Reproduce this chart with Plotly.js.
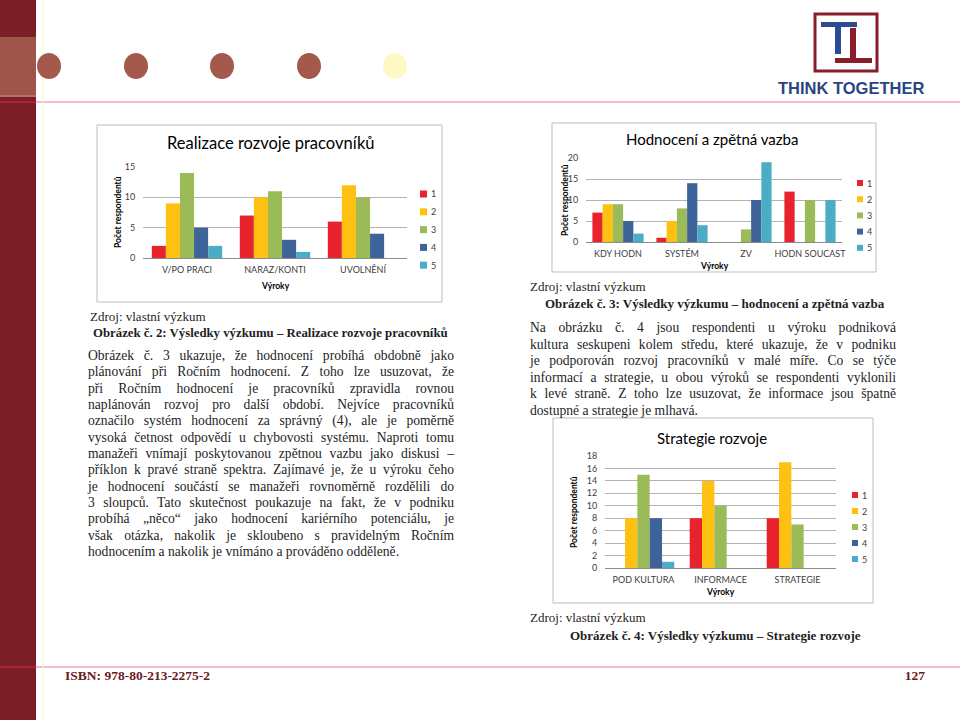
<!DOCTYPE html>
<html>
<head>
<meta charset="utf-8">
<script src="https://cdn.plot.ly/plotly-3.0.1.min.js"></script>
<style>
  html, body { margin:0; padding:0; background:#ffffff; }
  #page { position:relative; width:960px; height:720px; overflow:hidden; }
  #plot { position:absolute; left:0; top:0; width:960px; height:720px; }
  .ln { position:absolute; white-space:nowrap; font-family:"Liberation Serif", "Times New Roman", serif; color:#1e1e1e; }
  .just { text-align:justify; text-align-last:justify; white-space:normal; }
</style>
</head>
<body>
<div id="page">
  <div id="plot"></div>
</div>
<script>
// ---------------- DATA ----------------
const seriesNames = ['1', '2', '3', '4', '5'];

const cats1 = ['V/PO PRACI', 'NARAZ/KONTI', 'UVOLNĚNÍ'];
const s1_chart1 = [2, 7, 6];
const s2_chart1 = [9, 10, 12];
const s3_chart1 = [14, 11, 10];
const s4_chart1 = [5, 3, 4];
const s5_chart1 = [2, 1, 0];

const cats2 = ['KDY HODN', 'SYSTÉM', 'ZV', 'HODN SOUCAST'];
const s1_chart2 = [7, 1, 0, 12];
const s2_chart2 = [9, 5, 0, 0];
const s3_chart2 = [9, 8, 3, 10];
const s4_chart2 = [5, 14, 10, 0];
const s5_chart2 = [2, 4, 19, 10];

const cats3 = ['POD KULTURA', 'INFORMACE', 'STRATEGIE'];
const s1_chart3 = [0, 8, 8];
const s2_chart3 = [8, 14, 17];
const s3_chart3 = [15, 10, 7];
const s4_chart3 = [8, 0, 0];
const s5_chart3 = [1, 0, 0];

const title1 = 'Realizace rozvoje pracovníků';
const title2 = 'Hodnocení a zpětná vazba';
const title3 = 'Strategie rozvoje';
const yTitle = 'Počet respondentů';
const xTitle = 'Výroky';

const leftPara = [
  'Obrázek č. 3 ukazuje, že hodnocení probíhá obdobně jako',
  'plánování při Ročním hodnocení. Z toho lze usuzovat, že',
  'při Ročním hodnocení je pracovníků zpravidla rovnou',
  'naplánován rozvoj pro další období. Nejvíce pracovníků',
  'označilo systém hodnocení za správný (4), ale je poměrně',
  'vysoká četnost odpovědí u chybovosti systému. Naproti tomu',
  'manažeři vnímají poskytovanou zpětnou vazbu jako diskusi –',
  'příklon k pravé straně spektra. Zajímavé je, že u výroku čeho',
  'je hodnocení součástí se manažeři rovnoměrně rozdělili do',
  '3 sloupců. Tato skutečnost poukazuje na fakt, že v podniku',
  'probíhá „něco“ jako hodnocení kariérního potenciálu, je',
  'však otázka, nakolik je skloubeno s pravidelným Ročním',
  'hodnocením a nakolik je vnímáno a prováděno odděleně.'
];
const rightPara = [
  'Na obrázku č. 4 jsou respondenti u výroku podniková',
  'kultura seskupeni kolem středu, které ukazuje, že v podniku',
  'je podporován rozvoj pracovníků v malé míře. Co se týče',
  'informací a strategie, u obou výroků se respondenti vyklonili',
  'k levé straně. Z toho lze usuzovat, že informace jsou špatně',
  'dostupné a strategie je mlhavá.'
];
const sourceText = 'Zdroj: vlastní výzkum';
const caption2 = 'Obrázek č. 2: Výsledky výzkumu – Realizace rozvoje pracovníků';
const caption3 = 'Obrázek č. 3: Výsledky výzkumu – hodnocení a zpětná vazba';
const caption4 = 'Obrázek č. 4: Výsledky výzkumu – Strategie rozvoje';
const isbnText = 'ISBN: 978-80-213-2275-2';
const pageNo = '127';
const logoText = 'THINK TOGETHER';

// ---------------- STYLE ----------------
const W = 960, H = 720;
const colors = ['#e8232e', '#fec112', '#9bbb59', '#3e6399', '#4bacc6'];
const chartFont = 'Lato, "Open Sans", sans-serif';
const px = x => x / W;
const py = y => 1 - y / H;

function rect(x0, y0, x1, y1, o) {
  return Object.assign({type:'rect', xref:'paper', yref:'paper', x0:px(x0), x1:px(x1), y0:py(y1), y1:py(y0), line:{width:0}, layer:'below'}, o || {});
}
function oval(cx, cy, rx, ry, fill) {
  return {type:'circle', xref:'paper', yref:'paper', x0:px(cx-rx), x1:px(cx+rx), y0:py(cy+ry), y1:py(cy-ry), fillcolor:fill, line:{width:0}, layer:'below'};
}
function hline(x0, x1, y, color, w) {
  return {type:'line', xref:'paper', yref:'paper', x0:px(x0), x1:px(x1), y0:py(y), y1:py(y), line:{color:color, width:w}, layer:'below'};
}
function vline(x, y0, y1, color, w) {
  return {type:'line', xref:'paper', yref:'paper', x0:px(x), x1:px(x), y0:py(y0), y1:py(y1), line:{color:color, width:w}, layer:'below'};
}
function ann(x, y, text, o) {
  return Object.assign({xref:'paper', yref:'paper', x:px(x), y:py(y), text:text, showarrow:false, xanchor:'center', yanchor:'middle',
    font:{family:chartFont, size:9, color:'#000'}}, o || {});
}

// chart geometry
const charts = [
  {cats:cats1, vals:[s1_chart1, s2_chart1, s3_chart1, s4_chart1, s5_chart1], title:title1,
   box:[97,125,442,302], xd:[143,407], yd:[258,167], range:[0,15], dtick:5,
   titlePos:[270,143,16.5], yt:[118,212], xt:[275,286], leg:{sx:420, sy:194, dy:17.8, sz:7}},
  {cats:cats2, vals:[s1_chart2, s2_chart2, s3_chart2, s4_chart2, s5_chart2], title:title2,
   box:[552,123,876,272], xd:[586,842], yd:[242,158], range:[0,20], dtick:5,
   titlePos:[712,139,15], yt:[565,200], xt:[714,266], leg:{sx:857, sy:183, dy:16.2, sz:6}},
  {cats:cats3, vals:[s1_chart3, s2_chart3, s3_chart3, s4_chart3, s5_chart3], title:title3,
   box:[553,418,873,603], xd:[605,836], yd:[568,456], range:[0,18], dtick:2,
   titlePos:[712,438,15], yt:[574,512], xt:[720,592], leg:{sx:852, sy:495, dy:16, sz:6}}
];

const data = [];
const layout = {
  width:W, height:H, margin:{l:0, r:0, t:0, b:0, pad:0},
  paper_bgcolor:'#ffffff', plot_bgcolor:'rgba(0,0,0,0)',
  showlegend:false, barmode:'group', bargap:0.2, bargroupgap:0,
  font:{family:chartFont, size:9, color:'#404040'},
  shapes:[], annotations:[]
};

// page decorations
layout.shapes.push(rect(0, 0, 36, 720, {fillcolor:'#7b1e27'}));
layout.shapes.push(rect(0, 37, 36, 95, {fillcolor:'#a0554b'}));
layout.shapes.push(hline(0, 36, 96, '#e9c3bd', 1));
layout.shapes.push(hline(0, 36, 102, '#b3283a', 1.5));
layout.shapes.push(hline(36, 960, 102, '#f0a9ae', 1.5));
layout.shapes.push(hline(0, 36, 667, '#b3283a', 1.5));
layout.shapes.push(hline(36, 960, 667, '#f0a9ae', 1.5));
layout.shapes.push(vline(43, 0, 720, '#f6f3cf', 1));
[49, 136, 222, 309].forEach(cx => layout.shapes.push(oval(cx, 66, 12, 13, '#a4594d')));
layout.shapes.push(oval(395, 66, 12, 13, '#fdf9c4'));

// logo
layout.shapes.push(rect(815, 14, 877, 71, {fillcolor:'rgba(0,0,0,0)', line:{color:'#8b1d2b', width:3}}));
layout.shapes.push(rect(821, 22, 857, 27, {fillcolor:'#2c4b93'}));
layout.shapes.push(rect(835, 27, 841, 54, {fillcolor:'#2c4b93'}));
layout.shapes.push(rect(850, 28, 856, 58, {fillcolor:'#8b1d2b'}));
layout.shapes.push(rect(835, 58, 872, 63, {fillcolor:'#8b1d2b'}));
layout.annotations.push(ann(851, 88, '<b>' + logoText + '</b>', {font:{family:'"Liberation Sans", Arial, sans-serif', size:16.5, color:'#2b4582'}}));

charts.forEach((c, ci) => {
  const n = ci === 0 ? '' : String(ci + 1);
  const xa = 'x' + n, ya = 'y' + n;
  c.vals.forEach((v, si) => {
    data.push({type:'bar', x:c.cats, y:v, name:seriesNames[si], xaxis:xa, yaxis:ya,
      marker:{color:colors[si], line:{width:0}}, hoverinfo:'skip'});
  });
  layout['xaxis' + n] = {domain:[px(c.xd[0]), px(c.xd[1])], anchor:ya, type:'category',
    showline:true, linecolor:'#8c8c8c', linewidth:1, showgrid:false, zeroline:false,
    ticks:'outside', ticklen:3, tickcolor:'rgba(0,0,0,0)',
    tickfont:{family:chartFont, size:9, color:'#404040'}, fixedrange:true};
  layout['yaxis' + n] = {domain:[py(c.yd[0]), py(c.yd[1])], anchor:xa, range:c.range, dtick:c.dtick,
    showline:false, showgrid:true, gridcolor:'#b3b3b3', gridwidth:1, zeroline:false,
    ticks:'outside', ticklen:5, tickcolor:'rgba(0,0,0,0)',
    tickfont:{family:chartFont, size:9, color:'#404040'}, fixedrange:true};
  // chart box
  layout.shapes.push(rect(c.box[0], c.box[1], c.box[2], c.box[3], {fillcolor:'rgba(255,255,255,0)', line:{color:'#bdbdbd', width:1}}));
  // titles
  layout.annotations.push(ann(c.titlePos[0], c.titlePos[1], c.title, {font:{family:chartFont, size:c.titlePos[2], color:'#000'}}));
  layout.annotations.push(ann(c.yt[0], c.yt[1], '<b>' + yTitle + '</b>', {textangle:-90, font:{family:chartFont, size:8.5, color:'#000'}}));
  layout.annotations.push(ann(c.xt[0], c.xt[1], '<b>' + xTitle + '</b>', {font:{family:chartFont, size:8.5, color:'#000'}}));
  // legend
  seriesNames.forEach((nm, si) => {
    const yy = c.leg.sy + si * c.leg.dy;
    layout.shapes.push(rect(c.leg.sx, yy - c.leg.sz/2, c.leg.sx + c.leg.sz, yy + c.leg.sz/2, {fillcolor:colors[si], layer:'above'}));
    layout.annotations.push(ann(c.leg.sx + c.leg.sz + 2, yy, nm, {xanchor:'left', font:{family:chartFont, size:9, color:'#404040'}}));
  });
});

Plotly.newPlot('plot', data, layout, {staticPlot:true, displayModeBar:false});

// ---------------- TEXT ----------------
const page = document.getElementById('page');
function addLine(text, left, cy, opts) {
  const d = document.createElement('div');
  d.className = 'ln' + (opts.justify ? ' just' : '');
  d.textContent = text;
  const lh = 16;
  d.style.left = left + 'px';
  d.style.top = (cy - lh/2) + 'px';
  d.style.lineHeight = lh + 'px';
  d.style.height = lh + 'px';
  d.style.fontSize = (opts.size || 13.6) + 'px';
  if (opts.width) d.style.width = opts.width + 'px';
  if (opts.bold) d.style.fontWeight = 'bold';
  if (opts.color) d.style.color = opts.color;
  if (opts.align) { d.style.textAlign = opts.align; }
  page.appendChild(d);
}
leftPara.forEach((t, i) => addLine(t, 88, 356 + i * 16.33, {justify: i < leftPara.length - 1, width:366}));
rightPara.forEach((t, i) => addLine(t, 530, 328 + i * 16.6, {justify: i < rightPara.length - 1, width:366}));
addLine(sourceText, 90, 317, {size:13});
addLine(caption2, 93, 333, {size:12.8, bold:true});
addLine(sourceText, 530, 287, {size:13});
addLine(caption3, 545, 304, {size:13, bold:true});
addLine(sourceText, 530, 618, {size:13});
addLine(caption4, 570, 636, {size:13, bold:true});
addLine(isbnText, 65, 676, {size:13.5, bold:true, color:'#6d1a24'});
addLine(pageNo, 880, 676, {size:13.5, bold:true, color:'#6d1a24', width:45, align:'right'});
</script>
</body>
</html>
